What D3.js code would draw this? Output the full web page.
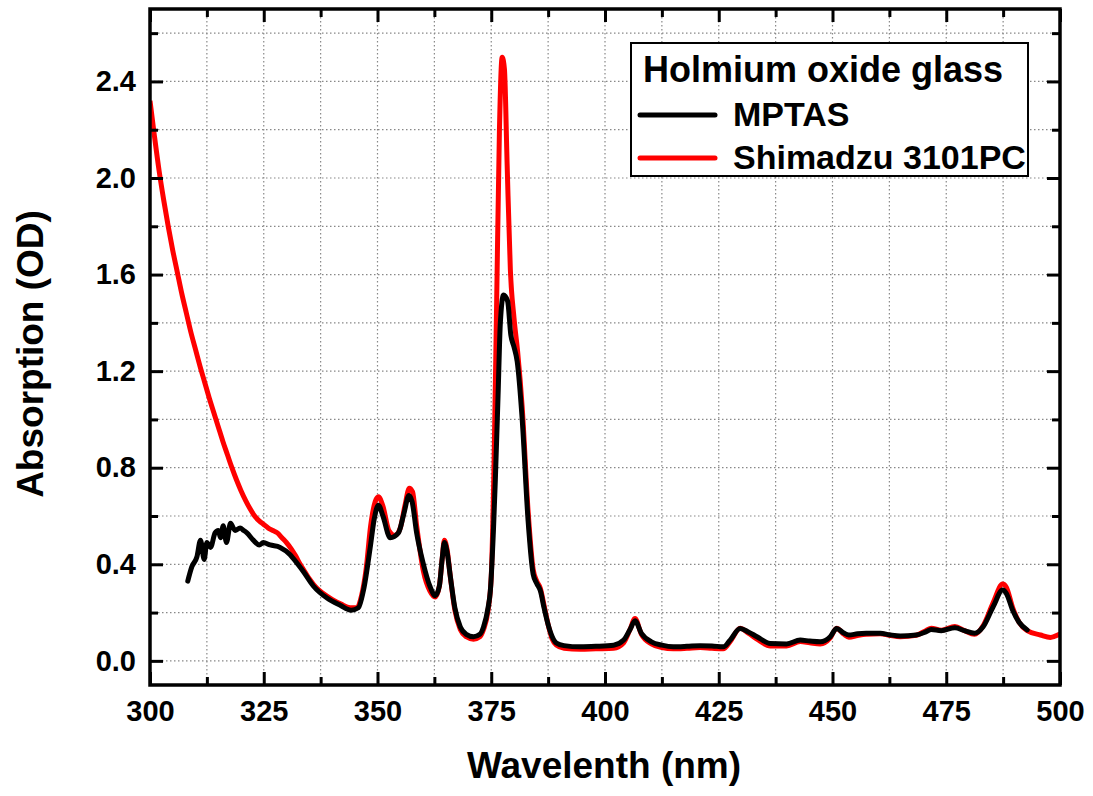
<!DOCTYPE html>
<html>
<head>
<meta charset="utf-8">
<script src="https://cdn.jsdelivr.net/npm/d3@7"></script>
<style>
  body { margin: 0; background: #fff; }
  text { font-family: "Liberation Sans", Arial, sans-serif; font-weight: bold; fill: #000; }
</style>
</head>
<body>
<script>
// wavelength (nm) and absorption (OD)
var mptasWl = [308.3, 309.2, 310.3, 311.1, 311.9, 312.5, 313.3, 314.3, 315.0, 315.5, 316.1, 316.8, 317.7, 318.7, 319.8, 320.6,
  321.3, 322.7, 324.0, 324.9, 326.4, 328.6, 330.8, 332.5, 333.7, 335.9, 338.9, 341.8, 344.2, 345.8, 347.0, 348.4, 349.3,
  350.2, 351.2, 352.8, 354.6, 355.8, 356.9, 357.6, 358.6, 360.1, 361.5, 362.7, 363.6, 364.2, 364.7, 365.3, 366.0, 367.0,
  368.2, 369.5, 371.1, 372.5, 373.3, 374.3, 374.8, 375.5, 375.9, 376.5, 377.0, 377.7, 378.6, 379.3, 380.0, 380.7, 381.8,
  383.1, 384.2, 385.0, 385.8, 386.6, 387.5, 388.4, 389.3, 391.0, 394.6, 398.0, 401.9, 404.1, 405.5, 406.6, 408.0, 410.2,
  412.5, 415.0, 418.0, 420.9, 423.5, 426.0, 427.5, 429.7, 431.5, 433.4, 436.3, 439.9, 442.9, 445.0, 447.3, 449.5, 450.9,
  452.5, 453.6, 455.5, 457.4, 460.5, 462.5, 464.9, 468.4, 470.5, 471.7, 473.9, 476.9, 479.0, 481.2, 483.1, 485.3, 487.4,
  488.2, 489.6, 491.0, 492.8];
var mptasOd = [0.33, 0.39, 0.43, 0.50, 0.42, 0.49, 0.47, 0.53, 0.54, 0.51, 0.56, 0.49, 0.57, 0.54, 0.55, 0.54,
  0.53, 0.50, 0.48, 0.49, 0.48, 0.47, 0.44, 0.40, 0.37, 0.31, 0.26, 0.23, 0.21, 0.22, 0.30, 0.47, 0.59,
  0.645, 0.60, 0.51, 0.53, 0.61, 0.685, 0.66, 0.53, 0.40, 0.31, 0.27, 0.31, 0.42, 0.49, 0.45, 0.35, 0.22,
  0.14, 0.11, 0.10, 0.11, 0.14, 0.22, 0.29, 0.55, 0.75, 1.10, 1.40, 1.515, 1.49, 1.35, 1.30, 1.24, 1.00,
  0.58, 0.36, 0.32, 0.29, 0.22, 0.15, 0.10, 0.074, 0.063, 0.058, 0.060, 0.065, 0.086, 0.13, 0.166, 0.114, 0.079,
  0.065, 0.058, 0.060, 0.063, 0.062, 0.058, 0.086, 0.134, 0.12, 0.10, 0.072, 0.07, 0.086, 0.082, 0.079, 0.10, 0.134,
  0.115, 0.107, 0.112, 0.114, 0.114, 0.108, 0.103, 0.107, 0.12, 0.130, 0.125, 0.137, 0.125, 0.114, 0.141, 0.224, 0.293,
  0.28, 0.21, 0.16, 0.128];

var shimWl = [300, 301, 302, 303, 304, 305, 306, 307, 308, 309, 310, 311, 312, 313, 314, 315, 316, 317, 318, 319, 320,
  321, 322, 323, 324, 325, 326, 327, 328, 329, 330, 331, 332, 333, 334, 335, 336, 337, 338, 340, 342, 344, 345.5, 346.5,
  347.5, 348.5, 349.5, 350.2, 351.2, 352.5, 353.8, 355, 356, 357, 357.7, 358.6, 360.1, 361.5, 362.7, 363.6, 364.2, 364.7,
  365.3, 366, 367, 368.2, 369.5, 371.1, 372.5, 373.3, 374.3, 375, 375.6, 376.2, 376.8, 377.4, 377.9, 378.5, 379.2, 380,
  380.8, 381.8, 383.1, 384.2, 385, 385.8, 386.6, 387.5, 388.4, 389.3, 391, 394.6, 398, 401.9, 404.1, 405.5, 406.6, 408,
  410.2, 412.5, 415, 418, 420.9, 423.5, 426, 427.5, 429.7, 431.5, 433.4, 436.3, 439.9, 442.9, 445, 447.3, 449.5, 450.9,
  452.5, 453.6, 455.5, 457.4, 460.5, 462.5, 464.9, 468.4, 470.5, 471.7, 473.9, 476.9, 479, 481.2, 483.1, 485.3, 487.4,
  488.2, 489.6, 491, 492.8, 495.7, 497.9, 500];
var shimOd = [2.32, 2.17, 2.03, 1.91, 1.80, 1.70, 1.61, 1.52, 1.44, 1.36, 1.29, 1.22, 1.155, 1.09, 1.03, 0.97, 0.91, 0.855,
  0.80, 0.75, 0.705, 0.665, 0.63, 0.60, 0.58, 0.565, 0.55, 0.54, 0.53, 0.51, 0.49, 0.465, 0.435, 0.40, 0.37, 0.34, 0.315,
  0.295, 0.28, 0.255, 0.235, 0.22, 0.22, 0.27, 0.38, 0.56, 0.66, 0.68, 0.64, 0.54, 0.52, 0.55, 0.64, 0.715, 0.70, 0.56,
  0.37, 0.29, 0.265, 0.31, 0.42, 0.50, 0.46, 0.35, 0.21, 0.13, 0.10, 0.09, 0.10, 0.13, 0.21, 0.35, 0.8, 1.5, 2.2, 2.50,
  2.45, 2.05, 1.62, 1.42, 1.28, 1.05, 0.62, 0.38, 0.33, 0.30, 0.23, 0.15, 0.09, 0.065, 0.052, 0.048, 0.05, 0.052, 0.075,
  0.13, 0.175, 0.11, 0.07, 0.055, 0.05, 0.052, 0.055, 0.052, 0.05, 0.08, 0.135, 0.115, 0.09, 0.062, 0.062, 0.08, 0.075,
  0.07, 0.095, 0.135, 0.11, 0.098, 0.105, 0.11, 0.112, 0.106, 0.10, 0.106, 0.125, 0.135, 0.127, 0.142, 0.125, 0.11,
  0.145, 0.24, 0.318, 0.305, 0.22, 0.16, 0.125, 0.107, 0.097, 0.111];

var xTicks = [300, 325, 350, 375, 400, 425, 450, 475, 500];
var xMinor = [312.5, 337.5, 362.5, 387.5, 412.5, 437.5, 462.5, 487.5];
var yTicks = [0.0, 0.4, 0.8, 1.2, 1.6, 2.0, 2.4];
var yMinor = [0.2, 0.6, 1.0, 1.4, 1.8, 2.2, 2.6];
var legendTitle = "Holmium oxide glass";
var seriesNames = ["MPTAS", "Shimadzu 3101PC"];
var seriesColors = ["#000000", "#ff0000"];

var W = 1093, H = 796;
var mL = 150, mR = 1060, mT = 9, mB = 685;

var svg = d3.select("body").append("svg").attr("width", W).attr("height", H);

var x = d3.scaleLinear().domain([300, 500]).range([mL, mR]);
var y = d3.scaleLinear().domain([-0.1, 2.7]).range([mB, mT]);

// dotted grid at every tick
var gridX = xTicks.concat(xMinor), gridY = yTicks.concat(yMinor);
svg.append("g").selectAll("line").data(gridX).enter().append("line")
    .attr("x1", function(d){ return x(d); }).attr("x2", function(d){ return x(d); })
    .attr("y1", mT).attr("y2", mB)
    .attr("stroke", "#888").attr("stroke-width", 1.2).attr("stroke-dasharray", "1.5,2.5");
svg.append("g").selectAll("line").data(gridY).enter().append("line")
    .attr("y1", function(d){ return y(d); }).attr("y2", function(d){ return y(d); })
    .attr("x1", mL).attr("x2", mR)
    .attr("stroke", "#888").attr("stroke-width", 1.2).attr("stroke-dasharray", "1.5,2.5");

svg.append("clipPath").attr("id", "clip").append("rect")
    .attr("x", mL).attr("y", mT).attr("width", mR - mL).attr("height", mB - mT);

var line = d3.line()
    .x(function(d){ return x(d[0]); })
    .y(function(d){ return y(d[1]); })
    .curve(d3.curveMonotoneX);

var shim = d3.zip(shimWl, shimOd), mptas = d3.zip(mptasWl, mptasOd);
svg.append("path").datum(shim).attr("d", line).attr("clip-path", "url(#clip)")
    .attr("fill", "none").attr("stroke", seriesColors[1]).attr("stroke-width", 5).attr("stroke-linejoin", "round");
svg.append("path").datum(mptas).attr("d", line).attr("clip-path", "url(#clip)")
    .attr("fill", "none").attr("stroke", seriesColors[0]).attr("stroke-width", 5)
    .attr("stroke-linejoin", "round").attr("stroke-linecap", "round");

// axes, ticks pointing inward on all four sides
function axisG(axis, tx, ty) {
  var g = svg.append("g").attr("transform", "translate(" + tx + "," + ty + ")").call(axis);
  g.select(".domain").remove();
  g.selectAll(".tick line").attr("stroke", "#000").attr("stroke-width", 3);
  return g;
}
var bx = axisG(d3.axisBottom(x).tickValues(xTicks).tickSize(-13).tickPadding(15).tickFormat(d3.format("d")), 0, mB);
axisG(d3.axisBottom(x).tickValues(xMinor).tickSize(-8).tickFormat(""), 0, mB);
axisG(d3.axisTop(x).tickValues(xTicks).tickSize(-13).tickFormat(""), 0, mT);
axisG(d3.axisTop(x).tickValues(xMinor).tickSize(-8).tickFormat(""), 0, mT);
var ly = axisG(d3.axisLeft(y).tickValues(yTicks).tickSize(-13).tickPadding(14).tickFormat(d3.format(".1f")), mL, 0);
axisG(d3.axisLeft(y).tickValues(yMinor).tickSize(-8).tickFormat(""), mL, 0);
axisG(d3.axisRight(y).tickValues(yTicks).tickSize(-13).tickFormat(""), mR, 0);
axisG(d3.axisRight(y).tickValues(yMinor).tickSize(-8).tickFormat(""), mR, 0);

bx.selectAll("text").attr("font-size", 29).attr("font-family", "Liberation Sans, Arial, sans-serif").attr("font-weight", "bold").attr("fill", "#000");
ly.selectAll("text").attr("font-size", 29).attr("font-family", "Liberation Sans, Arial, sans-serif").attr("font-weight", "bold").attr("fill", "#000");

svg.append("rect").attr("x", mL).attr("y", mT).attr("width", mR - mL).attr("height", mB - mT)
    .attr("fill", "none").attr("stroke", "#000").attr("stroke-width", 3.5);

svg.append("text").attr("x", 604).attr("y", 778).attr("text-anchor", "middle")
    .attr("font-size", 37).text("Wavelenth (nm)");
svg.append("text").attr("transform", "translate(43,354) rotate(-90)").attr("text-anchor", "middle")
    .attr("font-size", 37).text("Absorption (OD)");

// legend
var lg = svg.append("g");
lg.append("rect").attr("x", 631).attr("y", 43).attr("width", 397).attr("height", 133)
    .attr("fill", "#fff").attr("stroke", "#000").attr("stroke-width", 2);
lg.append("text").attr("x", 643).attr("y", 82).attr("font-size", 36).text(legendTitle);
lg.selectAll(".item").data(seriesNames).enter().append("g").attr("class", "item")
    .each(function(d, i){
      var g = d3.select(this), yy = 115 + i * 43;
      g.append("line").attr("x1", 640).attr("x2", 715).attr("y1", yy).attr("y2", yy)
          .attr("stroke", seriesColors[i]).attr("stroke-width", 5).attr("stroke-linecap", "round");
      g.append("text").attr("x", 733).attr("y", yy + 11).attr("font-size", 34).text(d);
    });
</script>
</body>
</html>
